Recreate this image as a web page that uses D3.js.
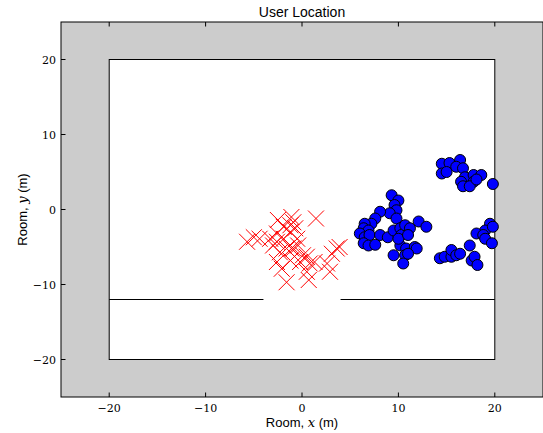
<!DOCTYPE html>
<html>
<head>
<meta charset="utf-8">
<script src="https://cdn.jsdelivr.net/npm/d3@7"></script>
<style>
  body { margin: 0; background: #fff; }
  svg { display: block; }
</style>
</head>
<body>
<script>
// Room outline and door wall
const roomX = [-20, 20];
const roomY = [-20, 20];
const wallY = -12;
const wallSegments = [[-20, -4], [4, 20]];

const ticks = [-20, -10, 0, 10, 20];

// Red crosses (estimates of user location, one method)
const redX = [-1.1, 1.45, -5.0, -5.7, -4.4, -3.3, -2.6, -1.9, -1.2, -0.7, -1.9, -1.2, -2.5, -0.9,
  -1.6, -0.9, -2.3, -0.4, -2.6, -2.1, -1.6, -2.6, -1.2, -0.5, 0.1, 0.5, -0.2, 0.8, 0.5, 0.7,
  1.3, 2.6, 2.9, 3.1, 3.6, 3.9, -3.0, -1.1];
const redY = [-1.0, -1.2, -3.7, -4.3, -3.9, -3.9, -4.3, -3.9, -3.0, -2.5, -2.3, -2.1, -1.4, -1.7,
  -5.2, -5.2, -5.7, -4.8, -3.2, -7.9, -9.7, -7.0, -6.8, -3.9, -6.1, -6.3, -7.0, -7.2, -8.3, -9.4,
  -7.0, -7.2, -8.3, -5.9, -5.2, -5.0, -4.8, -5.2];

// Blue circles
const blueX = [9.3, 10.0, 9.6, 9.8, 9.1, 9.8, 8.1, 7.6, 7.2, 6.5, 6.4, 6.9, 6.0, 6.5, 7.0, 8.1,
  6.4, 6.9, 7.6, 8.9, 9.5, 10.2, 10.3, 10.7, 10.2, 10.8, 10.7, 9.5, 10.5, 10.0, 12.1, 12.9,
  11.2, 11.0, 11.7, 11.9, 11.0,
  14.5, 15.3, 16.4, 14.5, 15.0, 16.0, 16.7, 16.9, 16.5, 17.8, 17.8, 18.6, 16.7, 17.4, 18.1, 19.8,
  14.3, 14.8, 15.5, 15.5, 16.0, 16.4, 17.4, 17.6, 17.9, 18.2, 19.5, 19.0, 19.8, 18.1, 18.8, 19.0, 19.7];
const blueY = [1.9, 1.2, 0.6, -0.1, -0.5, -1.2, -0.3, -1.2, -1.9, -1.9, -2.5, -2.8, -3.2, -3.7, -3.4, -3.4,
  -4.5, -4.8, -4.7, -3.7, -2.8, -2.5, -3.4, -2.1, -4.8, -5.2, -6.1, -6.1, -7.2, -3.9, -1.6, -2.3,
  -2.5, -3.4, -5.0, -5.2, -5.9,
  6.1, 6.2, 6.6, 4.8, 5.0, 5.7, 5.5, 4.3, 3.7, 4.6, 3.7, 4.6, 3.1, 3.1, 4.0, 3.4,
  -6.5, -6.3, -6.3, -5.4, -6.1, -5.9, -4.8, -6.8, -6.3, -7.4, -1.9, -2.8, -2.3, -3.2, -3.4, -3.9, -4.5];

const width = 543, height = 433;
const mLeft = 61, mRight = 543, mTop = 22, mBottom = 397;

const svg = d3.select('body').append('svg')
  .attr('width', width)
  .attr('height', height);

const x = d3.scaleLinear().domain([-25, 25]).range([mLeft, mRight]);
const y = d3.scaleLinear().domain([-25, 25]).range([mBottom, mTop]);

// gray axes background
svg.append('rect')
  .attr('x', mLeft).attr('y', mTop)
  .attr('width', mRight - mLeft).attr('height', mBottom - mTop)
  .attr('fill', '#cccccc');

// room
svg.append('rect')
  .attr('x', x(roomX[0])).attr('y', y(roomY[1]))
  .attr('width', x(roomX[1]) - x(roomX[0]))
  .attr('height', y(roomY[0]) - y(roomY[1]))
  .attr('fill', '#fff')
  .attr('stroke', '#000')
  .attr('stroke-width', 1);

svg.selectAll('line.wall')
  .data(wallSegments)
  .enter().append('line')
  .attr('class', 'wall')
  .attr('x1', d => x(d[0])).attr('x2', d => x(d[1]))
  .attr('y1', y(wallY)).attr('y2', y(wallY))
  .attr('stroke', '#000')
  .attr('stroke-width', 1);

// red crosses
const s = 8;
const reds = svg.append('g')
  .attr('stroke', '#ff0000')
  .attr('stroke-width', 1)
  .attr('fill', 'none');
redX.forEach((v, i) => {
  const cx = x(v), cy = y(redY[i]);
  reds.append('path')
    .attr('d', `M${cx - s},${cy - s}L${cx + s},${cy + s}M${cx - s},${cy + s}L${cx + s},${cy - s}`);
});

// blue circles
svg.append('g').selectAll('circle')
  .data(blueX.map((v, i) => [v, blueY[i]]))
  .enter().append('circle')
  .attr('cx', d => x(d[0]))
  .attr('cy', d => y(d[1]))
  .attr('r', 5.5)
  .attr('fill', '#0000ff')
  .attr('stroke', '#000')
  .attr('stroke-width', 1);

// frame
svg.append('rect')
  .attr('x', mLeft).attr('y', mTop)
  .attr('width', mRight - mLeft).attr('height', mBottom - mTop)
  .attr('fill', 'none')
  .attr('stroke', '#000')
  .attr('stroke-width', 1);

// inward ticks
const tl = 4.5;
const tickG = svg.append('g').attr('stroke', '#000').attr('stroke-width', 1);
ticks.forEach(t => {
  tickG.append('line').attr('x1', x(t)).attr('x2', x(t)).attr('y1', mBottom).attr('y2', mBottom - tl);
  tickG.append('line').attr('x1', x(t)).attr('x2', x(t)).attr('y1', mTop).attr('y2', mTop + tl);
  tickG.append('line').attr('x1', mLeft).attr('x2', mLeft + tl).attr('y1', y(t)).attr('y2', y(t));
});

const fmt = t => (t < 0 ? '\u2212' + Math.abs(t) : String(t));

svg.append('g').selectAll('text')
  .data(ticks)
  .enter().append('text')
  .attr('x', d => x(d))
  .attr('y', mBottom + 15)
  .attr('text-anchor', 'middle')
  .style('font-family', '"DejaVu Serif", serif')
  .style('font-size', '11px')
  .text(fmt);

svg.append('g').selectAll('text')
  .data(ticks)
  .enter().append('text')
  .attr('x', mLeft - 5)
  .attr('y', d => y(d) + 4)
  .attr('text-anchor', 'end')
  .style('font-family', '"DejaVu Serif", serif')
  .style('font-size', '11px')
  .text(fmt);

// title and labels
svg.append('text')
  .attr('x', 302)
  .attr('y', 17)
  .attr('text-anchor', 'middle')
  .style('font-family', '"Liberation Sans", Arial, sans-serif')
  .style('font-size', '14px')
  .text('User Location');

const xl = svg.append('text')
  .attr('x', 302)
  .attr('y', 427)
  .attr('text-anchor', 'middle')
  .style('font-family', '"Liberation Sans", Arial, sans-serif')
  .style('font-size', '13px');
xl.append('tspan').text('Room, ');
xl.append('tspan').style('font-family', '"DejaVu Serif", serif').style('font-style', 'italic').text('x');
xl.append('tspan').text(' (m)');

const yl = svg.append('text')
  .attr('transform', `translate(27,${y(0)}) rotate(-90)`)
  .attr('text-anchor', 'middle')
  .style('font-family', '"Liberation Sans", Arial, sans-serif')
  .style('font-size', '13px');
yl.append('tspan').text('Room, ');
yl.append('tspan').style('font-family', '"DejaVu Serif", serif').style('font-style', 'italic').text('y');
yl.append('tspan').text(' (m)');
</script>
</body>
</html>
